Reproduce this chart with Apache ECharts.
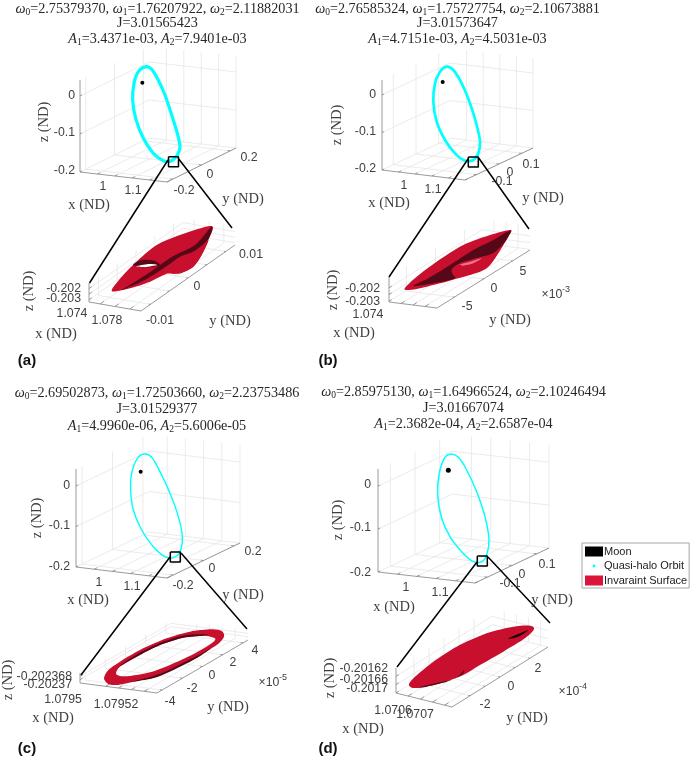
<!DOCTYPE html>
<html><head><meta charset="utf-8">
<style>html,body{margin:0;padding:0;background:#fff}#c{width:690px;height:759px;filter:blur(.35px)}</style>
<script src="https://cdn.jsdelivr.net/npm/echarts@6/dist/echarts.min.js"></script>
</head><body><div id="c"></div>
<script>
/* ---------- values ---------- */
const params0 = ['2.75379370','2.76585324','2.69502873','2.85975130'];
const params1 = ['1.76207922','1.75727754','1.72503660','1.64966524'];
const params2 = ['2.11882031','2.10673881','2.23753486','2.10246494'];
const jacobi  = ['3.01565423','3.01573647','3.01529377','3.01667074'];
const ampl1   = ['3.4371e-03','4.7151e-03','4.9960e-06','2.3682e-04'];
const ampl2   = ['7.9401e-03','4.5031e-03','5.6006e-05','2.6587e-04'];
const panelLetters = ['(a)','(b)','(c)','(d)'];
const legendNames = ['Moon','Quasi-halo Orbit','Invaraint Surface'];

/* orbit traces, in the view plane of each panel */
const orbitA = [[228,80],[245,88],[262,115],[285,165],[305,225],[322,280],[330,320],[322,345],[305,362],[280,362],[250,340],[220,295],[197,235],[188,180],[192,130],[205,95]];
const orbitB = [[305,200],[325,210],[350,250],[375,310],[395,375],[405,425],[400,460],[385,480],[360,482],[330,460],[300,420],[275,365],[265,305],[270,250],[285,215]];
const orbitC = [[433,222],[455,232],[480,275],[510,340],[535,410],[547,470],[540,515],[520,533],[495,530],[460,500],[425,450],[400,390],[392,330],[395,280],[412,235]];
const orbitD = [[318,222],[340,232],[365,270],[395,335],[420,410],[432,480],[425,525],[410,545],[385,545],[350,515],[315,470],[290,415],[278,345],[282,285],[298,235]];
const moonA = [217,128], moonB = [293,246], moonC = [422,275], moonD = [310,271];

/* surface silhouettes, in the view plane of each inset */
const surfAOuter = [[95,243],[130,195],[175,150],[230,105],[300,75],[395,48],[385,90],[365,135],[340,170],[300,190],[265,190],[210,215],[150,235]];
const surfADark  = [[395,50],[345,105],[280,138],[240,165],[205,190],[150,225],[125,240],[190,212],[235,185],[265,165],[300,140],[345,122],[385,88]];
const surfALow   = [[265,172],[300,155],[345,128],[385,90],[365,135],[340,170],[300,190],[265,190]];
const surfAHoleShade = [[160,165],[185,150],[222,152],[240,165],[205,172]];
const surfAHole  = [[170,169],[205,162],[232,165],[195,171]];
const surfBOuter = [[75,218],[110,185],[170,140],[250,90],[330,60],[392,45],[385,65],[360,105],[330,150],[300,170],[250,185],[180,205],[110,222],[80,225]];
const surfBDark  = [[392,46],[340,75],[280,105],[210,150],[145,190],[100,213],[160,205],[225,190],[215,165],[240,145],[290,130],[340,115],[372,85]];
const surfBLow   = [[215,165],[240,145],[290,130],[340,115],[372,85],[345,130],[320,160],[290,172],[250,185],[225,185]];
const surfBGlow  = [[240,148],[270,140],[305,130],[280,145],[250,152]];
const surfCOuter = [[72,190],[85,165],[120,140],[180,105],[260,70],[330,50],[395,43],[425,48],[432,65],[410,90],[350,125],[280,160],[220,185],[160,200],[110,210],[85,207]];
const surfCInner = [[108,175],[120,155],[170,125],[240,90],[310,68],[370,62],[405,70],[395,85],[340,118],[270,150],[210,172],[150,183],[120,183]];
const surfCShadeTop = [[118,154],[168,120],[238,85],[308,62],[380,58],[370,62],[310,68],[240,90],[170,125]];
const surfCShadeLow = [[150,201],[220,183],[280,158],[350,123],[395,98],[352,128],[282,164],[222,189]];
const surfDOuter = [[57,222],[75,200],[130,155],[200,110],[290,70],[370,50],[420,47],[432,58],[405,85],[340,125],[270,165],[220,195],[150,220],[90,233],[65,233]];
const surfDSlit  = [[355,85],[385,72],[415,60],[395,75],[370,85]];
const surfDLow   = [[85,232],[150,217],[200,203],[222,180],[215,195],[170,215],[110,230]];

/* axis ticks of each 3-D box */
const topXTicks = [0.95,1,1.05,1.1,1.15], topZTicks = [-0.2,-0.1,0];
const topYTicksAC = [-0.2,0,0.2], topYTicksBD = [-0.1,0,0.1];
const insetAX = [1.074,1.076,1.078], insetAY = [-0.01,-0.005,0,0.005,0.01], insetAZ = [-0.203,-0.2025,-0.202];
const insetBX = [1.074,1.076,1.078], insetBY = [-5,0,5], insetBZ = [-0.203,-0.2025,-0.202];
const insetCX = [1.0795,1.07951,1.07952,1.07953], insetCY = [-4,-2,0,2,4], insetCZ = [-0.20237,-0.202368];
const insetDX = [1.0706,1.07065,1.0707,1.07075], insetDY = [-2,-1,0,1,2], insetDZ = [-0.2017,-0.20166,-0.20162];

/* ---------- layout ---------- */
const W = 690, H = 759;
const CRIMSON = '#c8102e', SHADE = '#560818', ROSE = '#e8748a', CYAN = '#00ffff';
const boxes = [
 {A:[80,172],B:[167,182],C:[236,148],h:92,xr:[0.9,1.15],yr:[-0.24,0.24],zr:[-0.2,0.042],xt:topXTicks,yt:topYTicksAC,zt:topZTicks},
 {A:[89,302],B:[141,311],C:[235,245],h:19,xr:[1.0725,1.0795],yr:[-0.0125,0.0125],zr:[-0.2032,-0.2015],xt:insetAX,yt:insetAY,zt:insetAZ},
 {A:[382,170],B:[465,180],C:[533,148],h:90,xr:[0.9,1.15],yr:[-0.15,0.15],zr:[-0.2,0.04],xt:topXTicks,yt:topYTicksBD,zt:topZTicks},
 {A:[389,302],B:[437,308],C:[530,250],h:25,xr:[1.072,1.08],yr:[-8,8],zr:[-0.20305,-0.2012],xt:insetBX,yt:insetBY,zt:insetBZ},
 {A:[76,567],B:[167,578],C:[240,543],h:98,xr:[0.9,1.15],yr:[-0.24,0.24],zr:[-0.2,0.042],xt:topXTicks,yt:topYTicksAC,zt:topZTicks},
 {A:[80,683],B:[157,693],C:[248,640],h:10,xr:[1.07948,1.07954],yr:[-4.5,4.5],zr:[-0.202372,-0.202366],xt:insetCX,yt:insetCY,zt:insetCZ},
 {A:[378,572],B:[475,583],C:[549,548],h:103,xr:[0.9,1.15],yr:[-0.15,0.15],zr:[-0.2,0.04],xt:topXTicks,yt:topYTicksBD,zt:topZTicks},
 {A:[396,693],B:[452,707],C:[548,647],h:25,xr:[1.07055,1.07078],yr:[-3.2,3.2],zr:[-0.2017,-0.20158],xt:insetDX,yt:insetDY,zt:insetDZ}
];
const views = {a:[70,40],b:[345,0],c:[0,380],d:[345,380],sa:[80,210],sb:[380,215],sc:[80,615],sd:[390,610]};
const toFig = (pts, v) => pts.map(p => [p[0]/3 + views[v][0], p[1]/3 + views[v][1]]);

const orbits = [{pts:orbitA,v:'a',w:3.2},{pts:orbitB,v:'b',w:2.7},{pts:orbitC,v:'c',w:1.4},{pts:orbitD,v:'d',w:1.5}];
const moons = [[moonA,'a',4],[moonB,'b',4],[moonC,'c',4],[moonD,'d',5]];
const surfaces = [
 {v:'sa',rings:[surfAOuter],c:CRIMSON},{v:'sa',rings:[surfADark],c:SHADE},{v:'sa',rings:[surfALow],c:CRIMSON},
 {v:'sa',rings:[surfAHoleShade],c:SHADE},{v:'sa',rings:[surfAHole],c:'#ffffff'},
 {v:'sb',rings:[surfBOuter],c:CRIMSON},{v:'sb',rings:[surfBDark],c:SHADE},{v:'sb',rings:[surfBLow],c:CRIMSON},{v:'sb',rings:[surfBGlow],c:ROSE},
 {v:'sc',rings:[surfCOuter,surfCInner],c:CRIMSON},{v:'sc',rings:[surfCShadeTop],c:SHADE},{v:'sc',rings:[surfCShadeLow],c:SHADE},
 {v:'sd',rings:[surfDOuter],c:CRIMSON},{v:'sd',rings:[surfDSlit],c:'#1a0006'},{v:'sd',rings:[surfDLow],c:SHADE}
];
/* zoom box centre; connector ends */
const callouts = [
 {c:[173.5,161.7],l:[[168,160],[89.5,283]],r:[[178,158],[232,228]]},
 {c:[473.3,162],l:[[468,159],[389,277]],r:[[478,157],[529,229]]},
 {c:[175.3,557],l:[[170,557],[81,675]],r:[[181,553],[247,629]]},
 {c:[482.3,561],l:[[477,562],[397,667]],r:[[488,557],[550,623]]}
];
const S='sans', M='serif';
/* [text, x, y, kind, align, rotate] */
const labels = [
 ['0',75,96,S,'right'],['-0.1',75,133,S,'right'],['-0.2',75,171,S,'right'],['1',103,187,S],['1.1',133,191,S],['-0.2',184,191,S],['0',210,175,S],['0.2',249,158,S],
 ['x (ND)',89,205,M],['y (ND)',243,199,M],['z (ND)',44,122,M,'center',90],
 ['-0.202',81,289,S,'right'],['-0.203',81,299,S,'right'],['1.074',72,314,S],['1.078',107,321,S],['-0.01',160,321,S],['0',197,287,S],['0.01',251,255,S],
 ['x (ND)',56,334,M],['y (ND)',230,321,M],['z (ND)',29,291,M,'center',90],

 ['0',376,95,S,'right'],['-0.1',376,132,S,'right'],['-0.2',376,169,S,'right'],['1',404,186,S],['1.1',433,190,S],['-0.1',502,182,S],['0',510,173,S],['0.1',531,165,S],
 ['x (ND)',389,203,M],['y (ND)',543,198,M],['z (ND)',337,125,M,'center',90],
 ['-0.202',380,289,S,'right'],['-0.203',380,302,S,'right'],['1.074',368,315,S],['-5',467,307,S],['0',494,289,S],['5',523,272,S],['×10',552,295,S],['-3',566,290,S,'center',0,9],
 ['x (ND)',354,333,M],['y (ND)',510,320,M],['z (ND)',333,290,M,'center',90],

 ['0',70,486,S,'right'],['-0.1',70,526,S,'right'],['-0.2',70,567,S,'right'],['1',99,583,S],['1.1',132,587,S],['-0.2',183,586,S],['0',212,569,S],['0.2',253,552,S],
 ['x (ND)',88,600,M],['y (ND)',243,595,M],['z (ND)',37,518,M,'center',90],
 ['-0.202368',72,677,S,'right'],['-0.20237',72,685,S,'right'],['1.0795',63,700,S],['1.07952',116,705,S],['-4',170,702,S],['-2',192,689,S],['0',212,676,S],['2',233,663,S],['4',255,651,S],['×10',269,683,S],['-5',283,678,S,'center',0,9],
 ['x (ND)',53,718,M],['y (ND)',228,707,M],['z (ND)',8,680,M,'center',90],

 ['0',371,485,S,'right'],['-0.1',371,528,S,'right'],['-0.2',371,573,S,'right'],['1',406,588,S],['1.1',440,593,S],['-0.1',510,584,S],['0',522,575,S],['0.1',547,565,S],
 ['x (ND)',394,607,M],['y (ND)',552,600,M],['z (ND)',338,520,M,'center',90],
 ['-0.20162',388,669,S,'right'],['-0.20166',388,680,S,'right'],['-0.2017',388,689,S,'right'],['1.0706',393,711,S],['1.0707',415,715,S],['-2',485,705,S],['0',511,687,S],['2',538,669,S],['×10',569,692,S],['-4',583,687,S,'center',0,9],
 ['x (ND)',363,729,M],['y (ND)',527,718,M],['z (ND)',330,678,M,'center',90]
];

/* ---------- builders ---------- */
const GAP = ['-','-'];
function boxLines(b){
  const f=(u,v,w)=>[b.A[0]+u*(b.B[0]-b.A[0])+v*(b.C[0]-b.B[0]), b.A[1]+u*(b.B[1]-b.A[1])+v*(b.C[1]-b.B[1])-w*b.h];
  const fr=(t,r)=>(t-r[0])/(r[1]-r[0]);
  const grid=[],axis=[];
  b.xt.forEach(t=>{const u=fr(t,b.xr);grid.push(f(u,0,0),f(u,1,0),f(u,1,1),GAP);axis.push(f(u,0,0),f(u,.04,0),GAP);});
  b.yt.forEach(t=>{const v=fr(t,b.yr);grid.push(f(1,v,0),f(0,v,0),f(0,v,1),GAP);axis.push(f(1,v,0),f(.97,v,0),GAP);});
  b.zt.forEach(t=>{const w=fr(t,b.zr);grid.push(f(0,0,w),f(0,1,w),f(1,1,w),GAP);axis.push(f(0,0,w),f(0,.03,w),GAP);});
  axis.push(f(0,0,1),f(0,0,0),f(1,0,0),f(1,1,0),GAP);
  return {grid,axis};
}
const allLines = boxes.map(boxLines);
const gridData = allLines.flatMap(l=>l.grid), axisData = allLines.flatMap(l=>l.axis);

const callData=[];
callouts.forEach(k=>{
  const s=5,[x,y]=k.c;
  callData.push(k.l[0],k.l[1],GAP,k.r[0],k.r[1],GAP,[x-s,y-s],[x+s,y-s],[x+s,y+s],[x-s,y+s],[x-s,y-s],GAP);
});

/* closed smooth ring as path data */
function ringPath(pts,t){
  const n=pts.length; let d=`M${pts[0][0]} ${pts[0][1]}`;
  for(let i=0;i<n;i++){
    const p0=pts[(i-1+n)%n],p1=pts[i],p2=pts[(i+1)%n],p3=pts[(i+2)%n];
    d+=`C${p1[0]+(p2[0]-p0[0])*t} ${p1[1]+(p2[1]-p0[1])*t} ${p2[0]-(p3[0]-p1[0])*t} ${p2[1]-(p3[1]-p1[1])*t} ${p2[0]} ${p2[1]}`;
  }
  return d+'Z';
}
/* the two empty corner specks make the path's extent the whole canvas, so it is drawn 1:1 */
const frame=`M0 0L0 0Z M${W} ${H}L${W} ${H}Z `;
const pathShape = d => ({pathData:frame+d,x:0,y:0,width:W,height:H,layout:'cover'});

function titleLine(text,cx,y){
  return {text,left:cx,top:y-8,textAlign:'center',padding:0,itemGap:0,
    textStyle:{fontWeight:'normal',fontSize:14.2,color:'#262626',fontFamily:'Liberation Serif',lineHeight:16,
      rich:{r:{fontSize:14.2,color:'#262626',fontFamily:'Liberation Serif',lineHeight:16},
            i:{fontSize:14.2,fontStyle:'italic',color:'#262626',fontFamily:'Liberation Serif',lineHeight:16},
            s:{fontSize:9.5,color:'#262626',fontFamily:'Liberation Serif',lineHeight:13,verticalAlign:'bottom'}}}};
}
const titleCx=[157.5,457.5,157,463.5], titleYs=[[9,23,39],[9,23,39],[393,409,426],[392,408,424]];
const titles=[];
panelLetters.forEach((t,i)=>{
  titles.push(titleLine(`{i|ω}{s|0}{r|=${params0[i]}, }{i|ω}{s|1}{r|=${params1[i]}, }{i|ω}{s|2}{r|=${params2[i]}}`,titleCx[i],titleYs[i][0]));
  titles.push(titleLine(`{r|J=${jacobi[i]}}`,titleCx[i],titleYs[i][1]));
  titles.push(titleLine(`{i|A}{s|1}{r|=${ampl1[i]}, }{i|A}{s|2}{r|=${ampl2[i]}}`,titleCx[i],titleYs[i][2]));
  titles.push({text:t,left:[27,328,27,328][i],top:[361,361,749,749][i]-8,textAlign:'center',padding:0,
    textStyle:{fontSize:15,fontWeight:'bold',color:'#111',fontFamily:'Liberation Sans',lineHeight:16}});
});

const option={
  animation:false,
  title:titles,
  legend:{orient:'vertical',left:582,top:543,padding:[3,2,2,3],itemGap:3.5,itemWidth:18,itemHeight:10,
    borderColor:'#a6a6a6',borderWidth:1,backgroundColor:'#fff',selectedMode:false,z:20,
    textStyle:{fontSize:11,color:'#222',fontFamily:'Liberation Sans',padding:[0,0,0,-4]},
    data:[{name:legendNames[0],icon:'rect',itemStyle:{color:'#000',opacity:1}},
      {name:legendNames[1],icon:'path://M0 0L.001 0Z M18 10L18.001 10Z M7.6 5a1.4 1.4 0 1 0 2.8 0a1.4 1.4 0 1 0 -2.8 0Z',itemStyle:{color:CYAN}},
      {name:legendNames[2],icon:'rect',itemStyle:{color:'#dc143c'}}]},
  grid:{left:0,right:0,top:0,bottom:0},
  xAxis:{type:'value',min:0,max:W,show:false},
  yAxis:{type:'value',min:0,max:H,inverse:true,show:false},
  series:[
    {type:'line',name:'grid',data:gridData,symbol:'none',silent:true,z:1,clip:false,lineStyle:{color:'#e6e6e6',width:.8}},
    {type:'line',name:'axes',data:axisData,symbol:'none',silent:true,z:2,clip:false,lineStyle:{color:'#8f8f8f',width:.9}},
    {type:'custom',name:legendNames[1],silent:true,z:3,clip:false,coordinateSystem:'cartesian2d',itemStyle:{color:CYAN},
       data:orbits.map((o,i)=>[i]),encode:{x:0,y:0},
       renderItem(p,api){
         const o=orbits[api.value(0)];
         const pts=toFig(o.pts,o.v).map(q=>api.coord(q));
         return {type:'path',shape:pathShape(ringPath(pts,1/6)),style:{fill:null,stroke:CYAN,lineWidth:o.w}};
       }},
    {type:'scatter',name:legendNames[0],silent:true,z:4,clip:false,itemStyle:{color:'#000',opacity:1},
       data:moons.map(m=>({value:toFig([m[0]],m[1])[0],symbolSize:m[2]}))},
    {type:'custom',name:legendNames[2],silent:true,z:5,clip:false,coordinateSystem:'cartesian2d',itemStyle:{color:'#dc143c'},
       data:surfaces.map((s,i)=>[i]),encode:{x:0,y:0},
       renderItem(p,api){
         const s=surfaces[api.value(0)];
         const d=s.rings.map((r,k)=>{
           const pts=toFig(r,s.v).map(q=>api.coord(q));
           return ringPath(k?pts.slice().reverse():pts,0.14);
         }).join(' ');
         return {type:'path',shape:pathShape(d),style:{fill:s.c,stroke:null}};
       }},
    {type:'line',name:'callouts',data:callData,symbol:'none',silent:true,z:6,clip:false,lineStyle:{color:'#000',width:1.5}},
    {type:'custom',name:'labels',silent:true,z:7,clip:false,coordinateSystem:'cartesian2d',
       data:labels.map((l,i)=>[i]),encode:{x:0,y:0},
       renderItem(p,api){
         const l=labels[api.value(0)];
         const c=api.coord([l[1],l[2]]);
         const serif=l[3]===M;
         return {type:'text',x:c[0],y:c[1],rotation:l[5]?Math.PI*l[5]/180:0,
           style:{text:l[0],align:l[4]||'center',verticalAlign:'middle',fill:'#404040',
             font:`${l[6]||(serif?14.5:12.3)}px ${serif?'"Liberation Serif"':'"Liberation Sans"'}`}};
       }}
  ]
};
const chart=echarts.init(document.getElementById('c'),null,{renderer:'canvas',width:W,height:H});
chart.setOption(option);
</script></body></html>
